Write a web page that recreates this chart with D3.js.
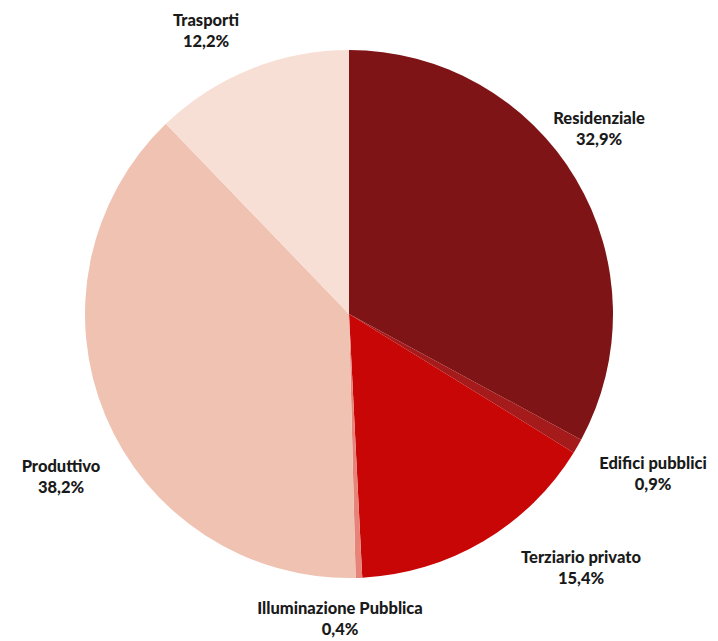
<!DOCTYPE html>
<html>
<head>
<meta charset="utf-8">
<script src="https://cdn.jsdelivr.net/npm/d3@7/dist/d3.min.js"></script>
<style>
  html, body { margin: 0; padding: 0; background: #ffffff; }
  svg { display: block; }
  text { font-family: "Lato", "DejaVu Sans", sans-serif; font-weight: 900; fill: #1a1a1a; }
</style>
</head>
<body>
<svg id="chart" width="718" height="641"></svg>
<script>
// Energy consumption share by sector (%), clockwise from 12 o'clock
const sectors = ["Residenziale", "Edifici pubblici", "Terziario privato", "Illuminazione Pubblica", "Produttivo", "Trasporti"];
const shares = [32.9, 0.9, 15.4, 0.4, 38.2, 12.2];
const shareLabels = ["32,9%", "0,9%", "15,4%", "0,4%", "38,2%", "12,2%"];
const sliceColors = ["#7f1416", "#a51a1a", "#c80606", "#e8837a", "#f0c2b2", "#f8dfd5"];

// Label anchor points (layout), one per sector
const labelAnchors = {
  "Residenziale": [599, 124],
  "Edifici pubblici": [653, 469],
  "Terziario privato": [581, 563],
  "Illuminazione Pubblica": [340, 614],
  "Produttivo": [61, 472],
  "Trasporti": [206, 26]
};

const cx = 349, cy = 314, radius = 264;

const svg = d3.select("#chart");
const g = svg.append("g").attr("transform", `translate(${cx},${cy})`);

const data = sectors.map((s, i) => ({ name: s, value: shares[i], label: shareLabels[i], color: sliceColors[i] }));

const pie = d3.pie().value(d => d.value).sort(null);
const arc = d3.arc().innerRadius(0).outerRadius(radius);

g.selectAll("path.slice")
  .data(pie(data))
  .join("path")
  .attr("class", "slice")
  .attr("d", arc)
  .attr("fill", d => d.data.color);

const labels = svg.selectAll("g.lbl")
  .data(data)
  .join("g")
  .attr("class", "lbl")
  .attr("transform", d => `translate(${labelAnchors[d.name][0]},${labelAnchors[d.name][1]})`);

labels.append("text")
  .attr("text-anchor", "middle")
  .attr("font-size", 16.5)
  .attr("y", 0)
  .text(d => d.name);

labels.append("text")
  .attr("text-anchor", "middle")
  .attr("font-size", 16.5)
  .attr("y", 21)
  .text(d => d.label);
</script>
</body>
</html>
